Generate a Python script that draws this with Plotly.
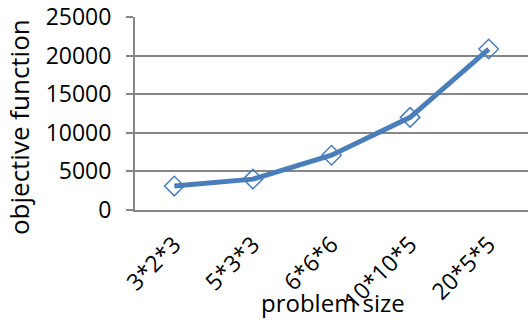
import plotly.graph_objects as go

# Problem sizes and the objective function value reached for each
problem_sizes = ["3*2*3", "5*3*3", "6*6*6", "10*10*5", "20*5*5"]
objective_values = [3100, 4000, 7100, 12000, 20850]
y_ticks = [0, 5000, 10000, 15000, 20000, 25000]

blue = "#4A7EBB"
grid = "#868686"
font = "Open Sans"

fig = go.Figure(
    go.Scatter(
        x=problem_sizes,
        y=objective_values,
        mode="lines+markers",
        line=dict(color=blue, width=5),
        marker=dict(symbol="diamond-open", size=15, color=blue, line=dict(width=1.5, color=blue)),
        showlegend=False,
        cliponaxis=False,
    )
)

fig.update_layout(
    width=528,
    height=321,
    margin=dict(l=135, r=0, t=17, b=111),
    paper_bgcolor="white",
    plot_bgcolor="white",
    font=dict(family=font, size=23, color="black"),
    xaxis=dict(
        type="category",
        range=[-0.5, 4.5],
        tickangle=-45,
        showgrid=False,
        showline=True,
        linecolor=grid,
        linewidth=2,
        ticks="",
        ticklabelstandoff=10,
        tickfont=dict(size=23),
    ),
    yaxis=dict(
        range=[0, 25000],
        tickvals=y_ticks,
        ticktext=[str(v) for v in y_ticks],
        showgrid=True,
        gridcolor=grid,
        gridwidth=2,
        showline=True,
        linecolor=grid,
        linewidth=2,
        ticks="outside",
        ticklen=7,
        tickwidth=2,
        tickcolor=grid,
        ticklabelstandoff=10,
        zeroline=False,
        tickfont=dict(size=23),
    ),
    annotations=[
        dict(
            text="problem size",
            xref="paper", yref="paper",
            x=0.505, y=-0.48,
            xanchor="center", yanchor="middle",
            showarrow=False,
            font=dict(size=24),
        ),
        dict(
            text="objective function",
            xref="paper", yref="paper",
            x=-0.295, y=0.43,
            xanchor="center", yanchor="middle",
            textangle=-90,
            showarrow=False,
            font=dict(size=26),
        ),
    ],
)

fig.write_html("out.html")
